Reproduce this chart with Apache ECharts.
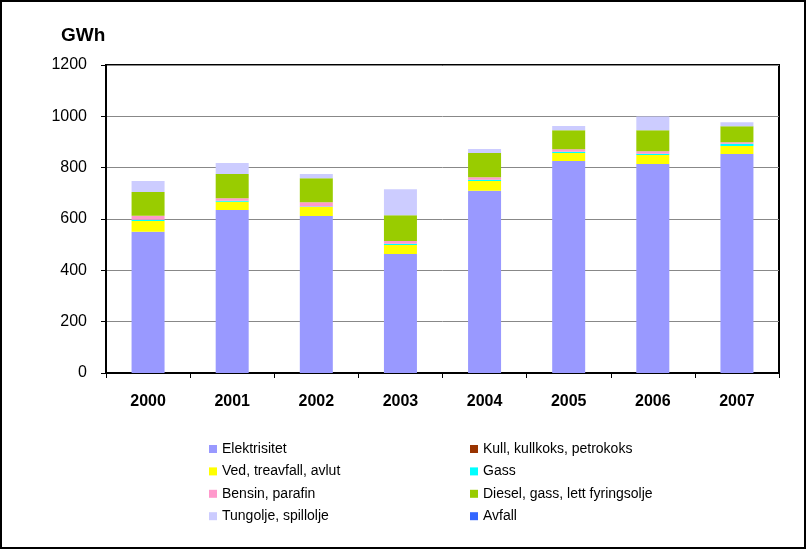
<!DOCTYPE html>
<html>
<head>
<meta charset="utf-8">
<script src="https://cdn.jsdelivr.net/npm/echarts@6/dist/echarts.min.js"></script>
<style>
html,body{margin:0;padding:0;background:#fff;}
#c{width:806px;height:549px;}
</style>
</head>
<body>
<div id="c"></div>
<script>
var categories = ['2000','2001','2002','2003','2004','2005','2006','2007'];
var elektrisitet = [550, 635, 612, 464, 710, 826, 814, 853];
var kull = [0, 0, 0, 0, 0, 0, 0, 0];
var ved = [42, 32, 35, 35, 38, 31, 35, 31];
var gass = [5, 4, 2, 5, 5, 5, 5, 9];
var bensin = [16, 10, 16, 10, 10, 10, 10, 6];
var diesel = [92, 94, 94, 101, 94, 74, 82, 62];
var tungolje = [43, 43, 16, 101, 16, 16, 53, 16];
var avfall = [0, 0, 0, 0, 0, 0, 0, 0];
var yTicks = [0, 200, 400, 600, 800, 1000, 1200];
var seriesNames = ['Elektrisitet','Kull, kullkoks, petrokoks','Ved, treavfall, avlut','Gass','Bensin, parafin','Diesel, gass, lett fyringsolje','Tungolje, spillolje','Avfall'];
var seriesData = [elektrisitet, kull, ved, gass, bensin, diesel, tungolje, avfall];
var colors = ['#9999FF','#993300','#FFFF00','#00FFFF','#FF99CC','#99CC00','#CCCCFF','#3366FF'];

var chart = echarts.init(document.getElementById('c'), null, {renderer:'canvas'});
var FONT = '"Liberation Sans", Arial, sans-serif';
var legendCommon = {
  orient: 'vertical',
  top: 437,
  itemWidth: 8,
  itemHeight: 8,
  itemGap: 8.4,
  icon: 'rect',
  selectedMode: false,
  textStyle: {fontFamily: FONT, fontSize: 14, color: '#000', lineHeight: 14}
};
var option = {
  animation: false,
  color: colors,
  graphic: [{
    type: 'rect', shape: {x: 1, y: 1, width: 804, height: 547},
    style: {fill: 'none', stroke: '#000', lineWidth: 2}, silent: true
  }, {
    type: 'text', left: 61, top: 26,
    style: {text: 'GWh', font: 'bold 19px "Liberation Sans", Arial, sans-serif', fill: '#000'}
  }],
  legend: [
    Object.assign({left: 204, data: [seriesNames[0], seriesNames[2], seriesNames[4], seriesNames[6]]}, legendCommon),
    Object.assign({left: 465, data: [seriesNames[1], seriesNames[3], seriesNames[5], seriesNames[7]]}, legendCommon)
  ],
  grid: {left: 106, top: 65, right: 27, bottom: 176, show: true, borderColor: '#000', borderWidth: 2, backgroundColor: '#fff'},
  xAxis: {
    type: 'category', data: categories,
    axisLine: {lineStyle: {color: '#000', width: 2}},
    axisTick: {show: true, length: 5, inside: false, lineStyle: {color: '#000', width: 1}},
    axisLabel: {fontFamily: FONT, fontSize: 16, fontWeight: 'bold', color: '#000', margin: 21}
  },
  yAxis: {
    type: 'value', min: yTicks[0], max: yTicks[yTicks.length-1], interval: 200,
    axisLine: {show: true, lineStyle: {color: '#000', width: 2}},
    axisTick: {show: true, length: 5, lineStyle: {color: '#000', width: 1}},
    axisLabel: {fontFamily: FONT, fontSize: 16, color: '#000', margin: 19, formatter: function(v){ return String(v); }},
    splitLine: {lineStyle: {color: '#888', width: 1}}
  },
  series: seriesNames.map(function(n, i){
    return {name: n, type: 'bar', stack: 'total', data: seriesData[i], barWidth: 33,
      itemStyle: {color: colors[i]}};
  })
};
chart.setOption(option);
</script>
</body>
</html>
